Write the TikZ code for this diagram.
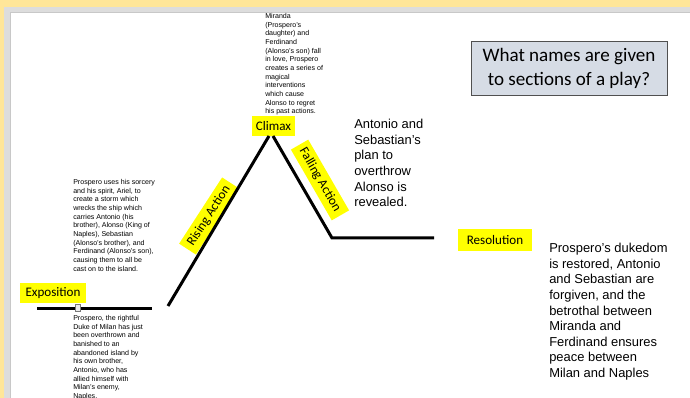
\documentclass[tikz,border=0pt]{standalone}
\usepackage{fontspec}
\setmainfont{Liberation Sans}
\newfontfamily\calibri{Carlito}
\begin{document}
\begin{tikzpicture}[x=0.75pt,y=-0.75pt]
    % Node styles
    \tikzstyle{none}=[inner sep=0mm]
    \tikzstyle{yellow label}=[fill={rgb,255: red,255; green,255; blue,0}, shape=rectangle, inner xsep=4pt, inner ysep=0pt, minimum height=15pt, font=\calibri\fontsize{9.8}{11}\selectfont]
    \tikzstyle{small text}=[inner sep=0mm, anchor=north west, align=left, font=\fontsize{5.3}{6.5}\selectfont]
    \tikzstyle{large text}=[inner sep=0mm, anchor=north west, align=left, font=\fontsize{9.7}{11.7}\selectfont]
    \tikzstyle{question box}=[fill={rgb,255: red,214; green,220; blue,229}, draw={rgb,255: red,80; green,80; blue,80}, line width=0.6pt, shape=rectangle, minimum width=147pt, minimum height=40pt, align=center, font=\calibri\fontsize{14.3}{17.5}\selectfont]
    \tikzstyle{anchor box}=[fill={rgb,255: red,235; green,235; blue,235}, draw={rgb,255: red,120; green,120; blue,120}, line width=0.4pt, shape=rectangle, minimum width=3.5pt, minimum height=5pt, inner sep=0mm]
    % Edge styles
    \tikzstyle{plot line}=[line width=2.25pt]

    % page frame
    \clip (0,0) rectangle (690,398);
    \fill [fill={rgb,255: red,255; green,230; blue,153}] (0,0) rectangle (690,398);
    \fill [fill={rgb,255: red,221; green,221; blue,221}] (4,7) rectangle (690,398);
    \fill [fill=white, draw={rgb,255: red,200; green,200; blue,200}, line width=0.4pt] (10,12) rectangle (700,410);

    \node [style=question box] (0) at (569, 68.5) {What names are given\\to sections of a play?};
    \node [style=yellow label] (1) at (53, 293) {Exposition};
    \node [style=yellow label, rotate=57, minimum width=58pt] (2) at (209, 216) {Rising Action};
    \node [style=yellow label, minimum width=32pt, inner xsep=3pt] (3) at (273.5, 126.5) {Climax};
    \node [style=yellow label, rotate=-60, minimum width=60pt] (4) at (320, 180) {Falling Action};
    \node [style=yellow label, minimum width=55.5pt, minimum height=16.5pt] (5) at (495, 240) {Resolution};

    \node [style=small text] (6) at (73, 315) {Prospero, the rightful\\Duke of Milan has just\\been overthrown and\\banished to an\\abandoned island by\\his own brother,\\Antonio, who has\\allied himself with\\Milan’s enemy,\\Naples.};
    \node [style=small text] (7) at (73, 179) {Prospero uses his sorcery\\and his spirit, Ariel, to\\create a storm which\\wrecks the ship which\\carries Antonio (his\\brother), Alonso (King of\\Naples), Sebastian\\(Alonso’s brother), and\\Ferdinand (Alonso’s son),\\causing them to all be\\cast on to the island.};
    \node [style=small text] (8) at (265, 13) {Miranda\\(Prospero’s\\daughter) and\\Ferdinand\\(Alonso’s son) fall\\in love, Prospero\\creates a series of\\magical\\interventions\\which cause\\Alonso to regret\\his past actions.};
    \node [style=large text] (9) at (354, 119) {Antonio and\\Sebastian’s\\plan to\\overthrow\\Alonso is\\revealed.};
    \node [style=large text] (10) at (549, 243) {Prospero’s dukedom\\is restored, Antonio\\and Sebastian are\\forgiven, and the\\betrothal between\\Miranda and\\Ferdinand ensures\\peace between\\Milan and Naples};

    \node [style=none] (11) at (37, 308.5) {};
    \node [style=none] (12) at (152, 308.5) {};
    \node [style=none] (13) at (168, 306) {};
    \node [style=none] (14) at (269, 136) {};
    \node [style=none] (15) at (273, 136) {};
    \node [style=none] (16) at (332, 238) {};
    \node [style=none] (17) at (434, 238) {};

    \draw [style=plot line] (11.center) to (12.center);
    \draw [style=plot line] (13.center) to (14.center);
    \draw [style=plot line] (15.center) to (16.center) to (17.center);

    \node [style=anchor box] (18) at (77.5, 308) {};
\end{tikzpicture}
\end{document}
